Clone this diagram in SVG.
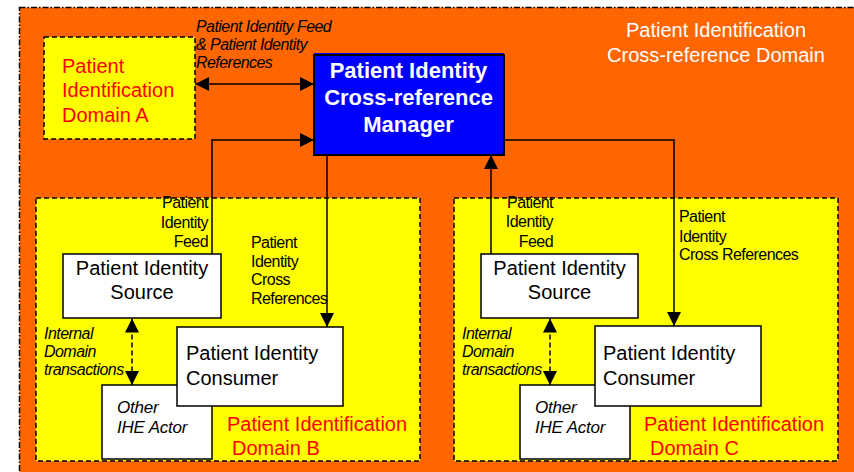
<svg xmlns="http://www.w3.org/2000/svg" width="854" height="472" viewBox="0 0 854 472">
<defs>
<marker id="ah" viewBox="0 0 14 14" refX="14" refY="7" markerWidth="14" markerHeight="14" markerUnits="userSpaceOnUse" orient="auto-start-reverse">
<path d="M0,0 L14,7 L0,14 z" fill="#000"/>
</marker>
<style>
.dom{fill:#FFFF00;stroke:#000;stroke-width:1.5;stroke-dasharray:5,3}
.box{fill:#fff;stroke:#000;stroke-width:1.5}
.red{font-family:"Liberation Sans",Arial,sans-serif;font-size:20px;fill:#FF0000}
.big{font-family:"Liberation Sans",Arial,sans-serif;font-size:20px;fill:#000}
.sm{font-family:"Liberation Sans",Arial,sans-serif;font-size:16px;letter-spacing:-0.55px;fill:#000}
.it{font-style:italic}
.oth{font-family:"Liberation Sans",Arial,sans-serif;font-size:17px;letter-spacing:-0.2px;font-style:italic;fill:#000}
.ln{fill:none;stroke:#000;stroke-width:1.5}
</style>
</defs>
<rect x="0" y="0" width="854" height="472" fill="#fff"/>
<g id="xref-domain">
<rect x="19.5" y="7.5" width="850" height="480" fill="#FF6600" stroke="#000" stroke-width="1.5" stroke-dasharray="6,2,1.5,2"/>
<text x="716" y="37" text-anchor="middle" font-family="Liberation Sans,Arial,sans-serif" font-size="20" fill="#fff">Patient Identification</text>
<text x="716" y="62" text-anchor="middle" font-family="Liberation Sans,Arial,sans-serif" font-size="20" fill="#fff">Cross-reference Domain</text>
</g>
<g id="domain-a">
<rect class="dom" x="44" y="37" width="151" height="102"/>
<text class="red" x="62" y="73">Patient</text>
<text class="red" x="62" y="97">Identification</text>
<text class="red" x="62" y="122">Domain A</text>
</g>
<g id="domain-b">
<rect class="dom" x="36" y="198" width="384" height="263"/>
<text class="red" x="227" y="431">Patient Identification</text>
<text class="red" x="232" y="455">Domain B</text>
</g>
<g id="domain-c">
<rect class="dom" x="454" y="198" width="384" height="263"/>
<text class="red" x="644" y="431">Patient Identification</text>
<text class="red" x="650" y="455">Domain C</text>
</g>
<g id="manager">
<rect x="314" y="53" width="190" height="4" fill="#0000FF"/>
<rect x="314" y="55" width="190" height="100" fill="#0000FF" stroke="#000" stroke-width="2"/>
<g font-family="Liberation Sans,Arial,sans-serif" font-size="22" font-weight="bold" fill="#fff" text-anchor="middle">
<text x="408.5" y="78">Patient Identity</text>
<text x="408.5" y="105">Cross-reference</text>
<text x="408.5" y="132">Manager</text>
</g>
</g>
<g id="other-b">
<rect class="box" x="102" y="385" width="110" height="74"/>
<text class="oth" x="117" y="413">Other</text>
<text class="oth" x="117" y="433">IHE Actor</text>
</g>
<g id="source-b">
<rect class="box" x="63" y="254" width="158" height="64"/>
<text class="big" x="142" y="275" text-anchor="middle">Patient Identity</text>
<text class="big" x="142" y="299" text-anchor="middle">Source</text>
</g>
<g id="consumer-b">
<rect class="box" x="177" y="327" width="166" height="79"/>
<text class="big" x="186" y="360">Patient Identity</text>
<text class="big" x="186" y="385">Consumer</text>
</g>
<g id="other-c">
<rect class="box" x="520" y="385" width="110" height="74"/>
<text class="oth" x="535" y="413">Other</text>
<text class="oth" x="535" y="433">IHE Actor</text>
</g>
<g id="source-c">
<rect class="box" x="481" y="254" width="157" height="64"/>
<text class="big" x="559.5" y="275" text-anchor="middle">Patient Identity</text>
<text class="big" x="559.5" y="299" text-anchor="middle">Source</text>
</g>
<g id="consumer-c">
<rect class="box" x="595" y="326" width="166" height="80"/>
<text class="big" x="603" y="360">Patient Identity</text>
<text class="big" x="603" y="385">Consumer</text>
</g>
<g id="connectors">
<path class="ln" d="M195,84 H314" marker-start="url(#ah)" marker-end="url(#ah)"/>
<path class="ln" d="M212,254 V140 H314" marker-end="url(#ah)"/>
<path class="ln" d="M327,155 V327" marker-end="url(#ah)"/>
<path class="ln" d="M491,254 V155" marker-end="url(#ah)"/>
<path class="ln" d="M504,140 H674 V326" marker-end="url(#ah)"/>
<path class="ln" d="M132,318.5 V385" stroke-dasharray="5,3" marker-start="url(#ah)" marker-end="url(#ah)"/>
<path class="ln" d="M550,318.5 V385" stroke-dasharray="5,3" marker-start="url(#ah)" marker-end="url(#ah)"/>
<g class="sm it">
<text x="196" y="32">Patient Identity Feed</text>
<text x="196" y="50">&amp; Patient Identity</text>
<text x="196" y="68">References</text>
<text x="44" y="339">Internal</text>
<text x="44" y="357">Domain</text>
<text x="44" y="375">transactions</text>
<text x="462" y="339">Internal</text>
<text x="462" y="357">Domain</text>
<text x="462" y="375">transactions</text>
</g>
<g class="sm">
<text x="208" y="208" text-anchor="end">Patient</text>
<text x="208" y="228" text-anchor="end">Identity</text>
<text x="208" y="247" text-anchor="end">Feed</text>
<text x="251" y="248">Patient</text>
<text x="251" y="267">Identity</text>
<text x="251" y="285">Cross</text>
<text x="251" y="304">References</text>
<text x="553" y="208" text-anchor="end">Patient</text>
<text x="553" y="227" text-anchor="end">Identity</text>
<text x="553" y="247" text-anchor="end">Feed</text>
<text x="679" y="222">Patient</text>
<text x="679" y="242">Identity</text>
<text x="679" y="260">Cross References</text>
</g>
</g>
</svg>
